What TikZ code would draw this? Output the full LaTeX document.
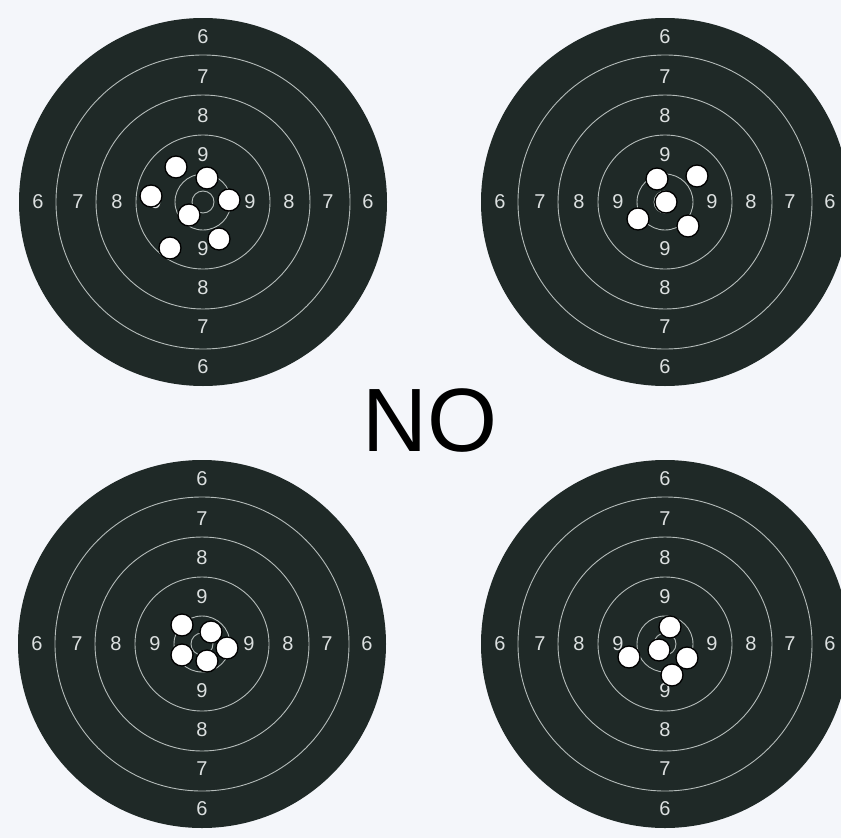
\documentclass[tikz,border=0pt]{standalone}
\usepackage{fontspec}
\setmainfont{Liberation Sans}
\definecolor{bgc}{RGB}{244,246,250}
\definecolor{tgtc}{RGB}{31,41,39}
\definecolor{ringc}{RGB}{180,187,185}
\definecolor{lblc}{RGB}{220,224,224}
\tikzset{
  ring/.style={draw=ringc, line width=0.9pt},
  lbl/.style={text=lblc, font=\fontsize{20}{20}\selectfont, inner sep=0pt},
  shot/.style={circle, draw=black, fill=white, line width=1.3pt, minimum size=22pt, inner sep=0pt},
  pics/target/.style={code={
    \fill[tgtc] (0,0) circle (184);
    \foreach \r in {147,107,67,28,11} \draw[ring] (0,0) circle (\r);
    \foreach \v/\d in {6/165,7/125,8/86,9/47} {
      \node[lbl] (-u\v) at (0,-\d) {\v};
      \node[lbl] (-d\v) at (0,\d) {\v};
      \node[lbl] (-l\v) at (-\d,0) {\v};
      \node[lbl] (-r\v) at (\d,0) {\v};
    }
  }}
}
\begin{document}
\begin{tikzpicture}[x=1pt,y=-1pt]
\useasboundingbox (0,0) rectangle (841,838);
\clip (0,0) rectangle (841,838);
\fill[bgc] (0,0) rectangle (841,838);
\pic (ta) at (203,202) {target};
\pic (tb) at (665,202) {target};
\pic (tc) at (202,644) {target};
\pic (td) at (665,644) {target};
% shots target A
\node[shot] (a1) at (176,167) {};
\node[shot] (a2) at (207,178) {};
\node[shot] (a3) at (151,196) {};
\node[shot] (a4) at (229,200) {};
\node[shot] (a5) at (189,215) {};
\node[shot] (a6) at (219,239) {};
\node[shot] (a7) at (170,248) {};
% shots target B
\node[shot] (b1) at (657,179) {};
\node[shot] (b2) at (697,176) {};
\node[shot] (b3) at (666,202) {};
\node[shot] (b4) at (638,219) {};
\node[shot] (b5) at (688,226) {};
% shots target C
\node[shot] (c1) at (182,625) {};
\node[shot] (c2) at (211,632) {};
\node[shot] (c3) at (227,648) {};
\node[shot] (c4) at (182,655) {};
\node[shot] (c5) at (207,661) {};
% shots target D
\node[shot] (d1) at (670,627) {};
\node[shot] (d2) at (659,650) {};
\node[shot] (d3) at (687,658) {};
\node[shot] (d4) at (629,657) {};
\node[shot] (d5) at (672,675) {};
% caption
\node[inner sep=0pt, font=\fontsize{90}{90}\selectfont] (no) at (430,421) {NO};
\end{tikzpicture}
\end{document}
